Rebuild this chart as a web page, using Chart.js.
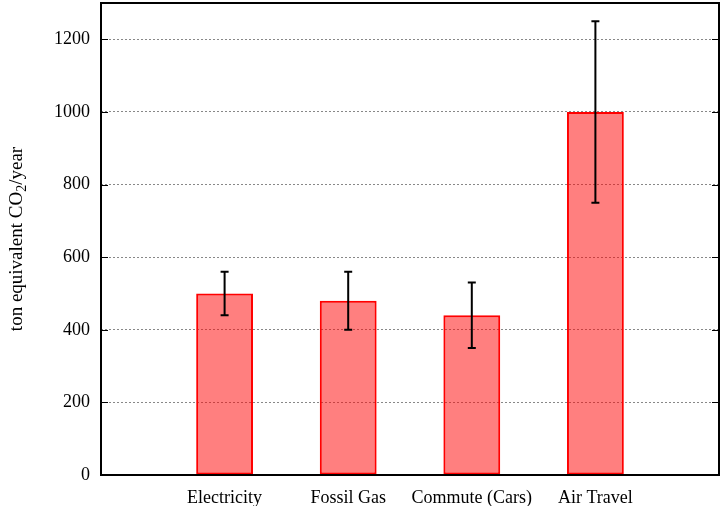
<!DOCTYPE html>
<html>
<head>
<meta charset="utf-8">
<script src="https://cdn.jsdelivr.net/npm/chart.js@4"></script>
<style>
  html, body { margin: 0; padding: 0; background: #fff; }
  #wrap { width: 721px; height: 506px; position: relative; }
</style>
</head>
<body>
<div id="wrap"><canvas id="grafica"></canvas></div>
<script>
const categories = ['Electricity', 'Fossil Gas', 'Commute (Cars)', 'Air Travel'];
const emissions = [500, 480, 440, 1000];
const errLow = [440, 400, 350, 750];
const errHigh = [560, 560, 530, 1250];
const yTicks = [0, 200, 400, 600, 800, 1000, 1200];

Chart.defaults.font.family = "'Liberation Serif', 'Times New Roman', serif";
Chart.defaults.color = '#000';

// error bars, frame and inner tick marks, gnuplot style
const extras = {
  id: 'extras',
  afterDatasetsDraw(chart) {
    const ctx = chart.ctx;
    const x = chart.scales.x, y = chart.scales.y;
    ctx.save();
    ctx.strokeStyle = '#000';
    ctx.lineWidth = 2;
    emissions.forEach(function (v, i) {
      const px = x.getPixelForValue(i);
      const lo = y.getPixelForValue(errLow[i]);
      const hi = y.getPixelForValue(errHigh[i]);
      ctx.beginPath();
      ctx.moveTo(px, lo); ctx.lineTo(px, hi);
      ctx.moveTo(px - 4, lo); ctx.lineTo(px + 4, lo);
      ctx.moveTo(px - 4, hi); ctx.lineTo(px + 4, hi);
      ctx.stroke();
    });
    ctx.restore();
  },
  afterDraw(chart) {
    const ctx = chart.ctx;
    const a = chart.chartArea;
    const y = chart.scales.y;
    ctx.save();
    ctx.strokeStyle = '#000';
    ctx.lineWidth = 1;
    yTicks.forEach(function (t) {
      const py = Math.round(y.getPixelForValue(t)) + 0.5;
      ctx.beginPath();
      ctx.moveTo(a.left, py); ctx.lineTo(a.left + 7, py);
      ctx.moveTo(a.right, py); ctx.lineTo(a.right - 7, py);
      ctx.stroke();
    });
    ctx.lineWidth = 2;
    ctx.strokeRect(a.left, a.top, a.right - a.left, a.bottom - a.top);

    // y axis title with subscript
    ctx.translate(17, (a.top + a.bottom) / 2);
    ctx.rotate(-Math.PI / 2);
    ctx.fillStyle = '#000';
    ctx.textBaseline = 'middle';
    const big = "19px 'Liberation Serif', serif";
    const small = "14px 'Liberation Serif', serif";
    const parts = [['ton equivalent CO', big, 0], ['2', small, 5], ['/year', big, 0]];
    let w = 0;
    parts.forEach(function (p) { ctx.font = p[1]; w += ctx.measureText(p[0]).width; });
    let cx = -w / 2;
    parts.forEach(function (p) {
      ctx.font = p[1];
      ctx.fillText(p[0], cx, p[2]);
      cx += ctx.measureText(p[0]).width;
    });
    ctx.restore();
  }
};

const ctx = document.getElementById('grafica').getContext('2d');
const grafica = new Chart(ctx, {
  type: 'bar',
  data: {
    datasets: [{
      label: 'CO2',
      data: emissions.map(function (v, i) { return { x: i, y: v }; }),
      backgroundColor: 'rgba(255, 0, 0, 0.5)',
      borderColor: '#ff0000',
      borderWidth: 2,
      borderSkipped: false,
      barPercentage: 0.46,
      categoryPercentage: 1
    }]
  },
  options: {
    responsive: true,
    maintainAspectRatio: false,
    animation: false,
    layout: { padding: { left: 0, right: 2, top: 3, bottom: 0 } },
    scales: {
      x: {
        type: 'linear',
        min: -1,
        max: 4,
        offset: false,
        afterBuildTicks: function (s) { s.ticks = categories.map(function (c, i) { return { value: i }; }); },
        afterFit: function (s) { s.height = 31; s.paddingLeft = 0; s.paddingRight = 0; },
        ticks: {
          font: { size: 18 },
          padding: 4,
          maxRotation: 0,
          autoSkip: false,
          callback: function (v) { return categories[v]; }
        },
        grid: { display: false, offset: false },
        border: { display: false }
      },
      y: {
        min: 0,
        max: 1300,
        afterBuildTicks: function (s) { s.ticks = yTicks.map(function (t) { return { value: t }; }); },
        afterFit: function (s) { s.width = 101; s.paddingTop = 0; s.paddingBottom = 0; },
        ticks: {
          font: { size: 18 },
          padding: 11,
          callback: function (v) { return String(v); }
        },
        grid: {
          color: function (c) { return c.tick.value === 0 ? 'rgba(0,0,0,0)' : '#888'; },
          drawTicks: false,
          lineWidth: 1
        },
        border: { display: false, dash: [2, 2] }
      }
    },
    plugins: {
      legend: { display: false },
      tooltip: { enabled: false }
    }
  },
  plugins: [extras]
});
</script>
</body>
</html>
